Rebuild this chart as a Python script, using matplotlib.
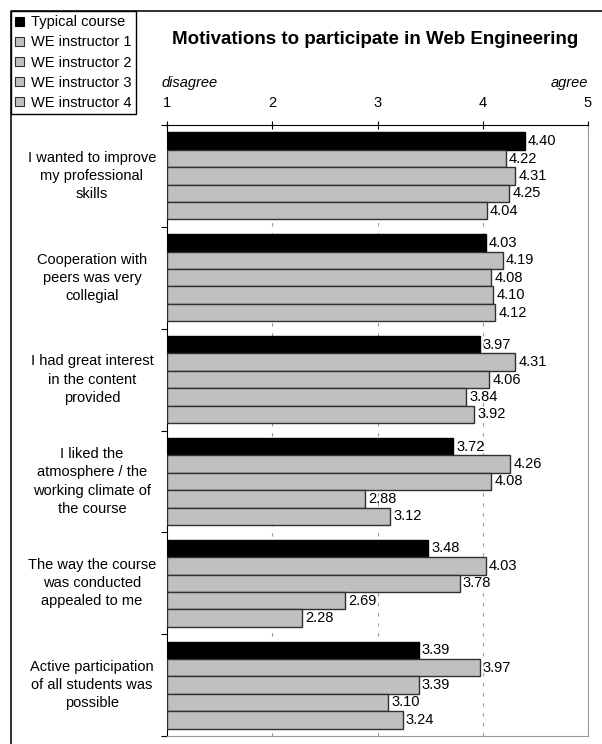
import numpy as np
import matplotlib.pyplot as plt
from matplotlib.patches import Patch
from matplotlib.lines import Line2D
from matplotlib.transforms import blended_transform_factory

plt.rcParams['font.family'] = ['Liberation Sans', 'DejaVu Sans']

categories = [
    "I wanted to improve\nmy professional\nskills",
    "Cooperation with\npeers was very\ncollegial",
    "I had great interest\nin the content\nprovided",
    "I liked the\natmosphere / the\nworking climate of\nthe course",
    "The way the course\nwas conducted\nappealed to me",
    "Active participation\nof all students was\npossible",
]
series_names = ["Typical course", "WE instructor 1", "WE instructor 2",
                "WE instructor 3", "WE instructor 4"]
typical = [4.40, 4.03, 3.97, 3.72, 3.48, 3.39]
we1 = [4.22, 4.19, 4.31, 4.26, 4.03, 3.97]
we2 = [4.31, 4.08, 4.06, 4.08, 3.78, 3.39]
we3 = [4.25, 4.10, 3.84, 2.88, 2.69, 3.10]
we4 = [4.04, 4.12, 3.92, 3.12, 2.28, 3.24]
series = [typical, we1, we2, we3, we4]
xticks = [1, 2, 3, 4, 5]

W, H = 602, 744
fig = plt.figure(figsize=(W / 100, H / 100), dpi=100)
ax = fig.add_axes([167 / W, 1 - 736 / H, (588 - 167) / W, (736 - 125) / H])

n_groups = len(categories)
bar_h = 0.171
gap = (1 - 5 * bar_h) / 2
face = ['black', '#c0c0c0', '#c0c0c0', '#c0c0c0', '#c0c0c0']
edge = ['black', '#303030', '#303030', '#303030', '#303030']

for s, vals in enumerate(series):
    for g, v in enumerate(vals):
        y = g + gap + (s + 0.5) * bar_h
        ax.barh(y, v - 1, left=1, height=bar_h, color=face[s],
                edgecolor=edge[s], linewidth=1, zorder=3)
        ax.text(v + 0.03, y, f"{v:.2f}", va='center', ha='left',
                fontsize=10.5, zorder=4)

ax.set_xlim(1, 5)
ax.set_ylim(n_groups, 0)
ax.xaxis.tick_top()
ax.set_xticks(xticks)
ax.set_xticklabels([str(t) for t in xticks], fontsize=10.5)
ax.tick_params(axis='x', direction='inout', length=6, width=0.8, pad=8)
ax.set_yticks(np.arange(n_groups + 1))
ax.set_yticklabels([])
ax.tick_params(axis='y', direction='out', length=4, width=0.8)

for x in [2, 3, 4]:
    ax.axvline(x, color='#999999', linewidth=0.8, linestyle=(0, (3, 6)), zorder=1)

ax.spines['top'].set_color('black')
ax.spines['left'].set_color('black')
ax.spines['right'].set_color('#999999')
ax.spines['bottom'].set_color('#999999')

# category labels
trans = blended_transform_factory(fig.transFigure, ax.transData)
for g, lab in enumerate(categories):
    ax.text(92 / W, g + 0.5, lab, transform=trans, ha='center', va='center',
            fontsize=10.5, linespacing=1.38, multialignment='center')

ax.text(-0.012, 1.069, "disagree", transform=ax.transAxes, style='italic',
        fontsize=10.5, ha='left', va='center')
ax.text(1.0, 1.069, "agree", transform=ax.transAxes, style='italic',
        fontsize=10.5, ha='right', va='center')

fig.text(375 / W, 1 - 40 / H, "Motivations to participate in Web Engineering",
         fontsize=13.5, fontweight='bold', ha='center', va='center')

# legend
handles = [Patch(facecolor=face[i], edgecolor=edge[i], linewidth=0.8)
           for i in range(len(series_names))]
leg = fig.legend(handles, series_names, loc='upper left',
                 bbox_to_anchor=(11 / W, 1 - 11 / H), fontsize=10.5,
                 handlelength=0.6, handleheight=0.6, handletextpad=0.5,
                 labelspacing=0.42, borderpad=0.3, borderaxespad=0,
                 fancybox=False, framealpha=1, edgecolor='black')
leg.get_frame().set_linewidth(1)

# outer border
fig.add_artist(Line2D([11 / W, 11 / W, 1], [0, 1 - 11 / H, 1 - 11 / H],
                      transform=fig.transFigure, color='#202020', linewidth=1.3))

fig.savefig('out.png', dpi=100)
